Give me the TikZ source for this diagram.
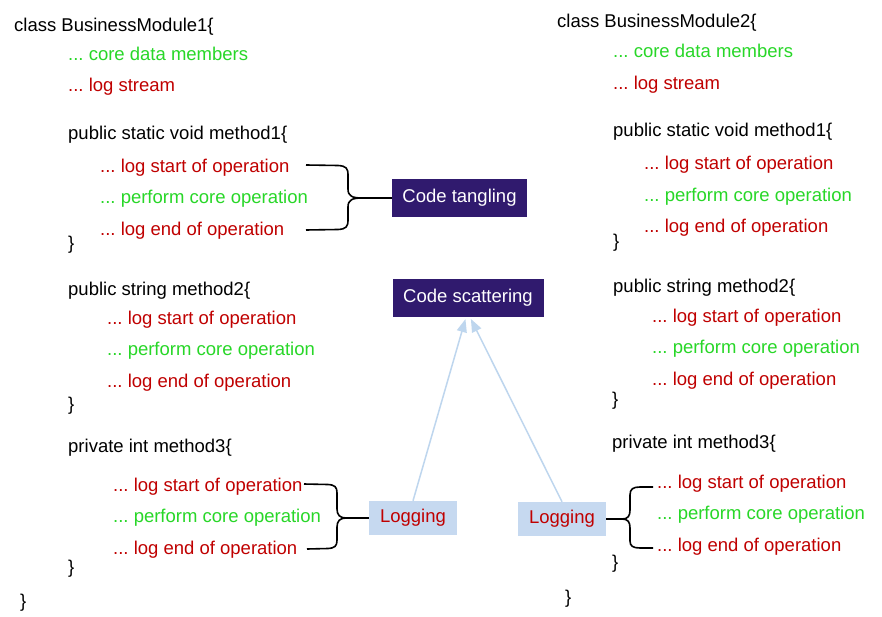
\documentclass[tikz,border=0pt]{standalone}
\usepackage{fontspec}
\setmainfont{Liberation Sans}
\usetikzlibrary{arrows.meta}
\frenchspacing
\definecolor{cred}{RGB}{192,0,0}
\definecolor{cgreen}{RGB}{40,215,40}
\definecolor{cpurple}{RGB}{48,26,110}
\definecolor{cblue}{RGB}{198,217,240}
\definecolor{carrow}{RGB}{190,214,238}
\newcommand\txtsize{\fontsize{18.5pt}{22pt}\selectfont}
\tikzset{
  code/.style={anchor=base west, inner sep=0pt, font=\txtsize, text=black},
  logline/.style={code, text=cred},
  coreline/.style={code, text=cgreen},
  concern/.style={fill=cpurple, text=white, inner sep=0pt, font=\txtsize, minimum height=38pt},
  aspect/.style={fill=cblue, text=cred, inner sep=0pt, font=\txtsize, minimum width=88pt, minimum height=34pt},
  bracepath/.style={draw=black, line width=1.6pt, line join=round},
  scatterarrow/.style={draw=carrow, line width=1.5pt, -{Triangle[length=13pt,width=10pt]}, shorten >=2pt}
}
\begin{document}
\begin{tikzpicture}[x=1pt,y=-1pt]
\useasboundingbox (0,0) rectangle (882,617);
\fill[white] (0,0) rectangle (882,617);

% Left module
\node[code] (c1) at (14,32) {class BusinessModule1\{};
\node[coreline] (c1d) at (68,61) {... core data members};
\node[logline] (c1l) at (68,92) {... log stream};
\node[code] (m11) at (68,140) {public static void method1\{};
\node[logline] (m11a) at (100,173) {... log start of operation};
\node[coreline] (m11b) at (100,204) {... perform core operation};
\node[logline] (m11c) at (100,236) {... log end of operation};
\node[code] (m11e) at (68,250) {\}};
\node[code] (m12) at (68,295) {public string method2\{};
\node[logline] (m12a) at (107,324) {... log start of operation};
\node[coreline] (m12b) at (107,355) {... perform core operation};
\node[logline] (m12c) at (107,387) {... log end of operation};
\node[code] (m12e) at (68,410) {\}};
\node[code] (m13) at (68,452) {private int method3\{};
\node[logline] (m13a) at (113,491) {... log start of operation};
\node[coreline] (m13b) at (113,522) {... perform core operation};
\node[logline] (m13c) at (113,554) {... log end of operation};
\node[code] (m13e) at (68,573) {\}};
\node[code] (c1e) at (20,607) {\}};

% Right module
\node[code] (c2) at (557,28) {class BusinessModule2\{};
\node[coreline] (c2d) at (613,58) {... core data members};
\node[logline] (c2l) at (613,90) {... log stream};
\node[code] (m21) at (613,137) {public static void method1\{};
\node[logline] (m21a) at (644,170) {... log start of operation};
\node[coreline] (m21b) at (644,202) {... perform core operation};
\node[logline] (m21c) at (644,233) {... log end of operation};
\node[code] (m21e) at (613,248) {\}};
\node[code] (m22) at (613,292) {public string method2\{};
\node[logline] (m22a) at (652,322) {... log start of operation};
\node[coreline] (m22b) at (652,353) {... perform core operation};
\node[logline] (m22c) at (652,385) {... log end of operation};
\node[code] (m22e) at (612,405) {\}};
\node[code] (m23) at (612,448) {private int method3\{};
\node[logline] (m23a) at (657,488) {... log start of operation};
\node[coreline] (m23b) at (657,519) {... perform core operation};
\node[logline] (m23c) at (657,551) {... log end of operation};
\node[code] (m23e) at (612,568) {\}};
\node[code] (c2e) at (565,603) {\}};

% Concern boxes
\node[concern, minimum width=135pt] (tang) at (459.5,198) {Code tangling};
\node[concern, minimum width=151pt] (scat) at (468,298) {Code scattering};
\node[aspect] (log1) at (413,518) {Logging};
\node[aspect] (log2) at (562,519) {Logging};

% Tangling brace
\coordinate (t1) at (306,165);
\coordinate (t2) at (306,230);
\coordinate (tt) at (362,198);
\draw[bracepath] (t1) -- (338,165.5) .. controls (346,166) and (348,168) .. (348,175)
  -- (348,189) .. controls (348,196) and (352,198) .. (tt) -- (tang.west);
\draw[bracepath] (t2) -- (338,229.5) .. controls (346,229) and (348,227) .. (348,220)
  -- (348,207) .. controls (348,200) and (352,198) .. (tt);

% Left logging brace
\coordinate (l1) at (304,484);
\coordinate (l2) at (307,549);
\coordinate (lt) at (346,518);
\draw[bracepath] (l1) -- (328,484.5) .. controls (335,485) and (337,487) .. (337,493)
  -- (337,509) .. controls (337,515) and (340,518) .. (lt) -- (log1.west);
\draw[bracepath] (l2) -- (328,548.5) .. controls (335,548) and (337,546) .. (337,540)
  -- (337,527) .. controls (337,521) and (340,518) .. (lt);

% Right logging brace
\coordinate (r1) at (653,487);
\coordinate (r2) at (653,548);
\coordinate (rt) at (622,519);
\draw[bracepath] (log2.east) -- (rt) .. controls (628,519) and (630,516) .. (630,510)
  -- (630,495) .. controls (630,489) and (633,487) .. (640,487) -- (r1);
\draw[bracepath] (rt) .. controls (628,519) and (630,522) .. (630,528)
  -- (630,541) .. controls (630,546) and (633,548) .. (640,548) -- (r2);

% Scattering arrows
\draw[scatterarrow] (log1.north) -- ([xshift=-2pt]scat.south);
\draw[scatterarrow] (log2.north) -- ([xshift=2pt]scat.south);
\end{tikzpicture}
\end{document}
